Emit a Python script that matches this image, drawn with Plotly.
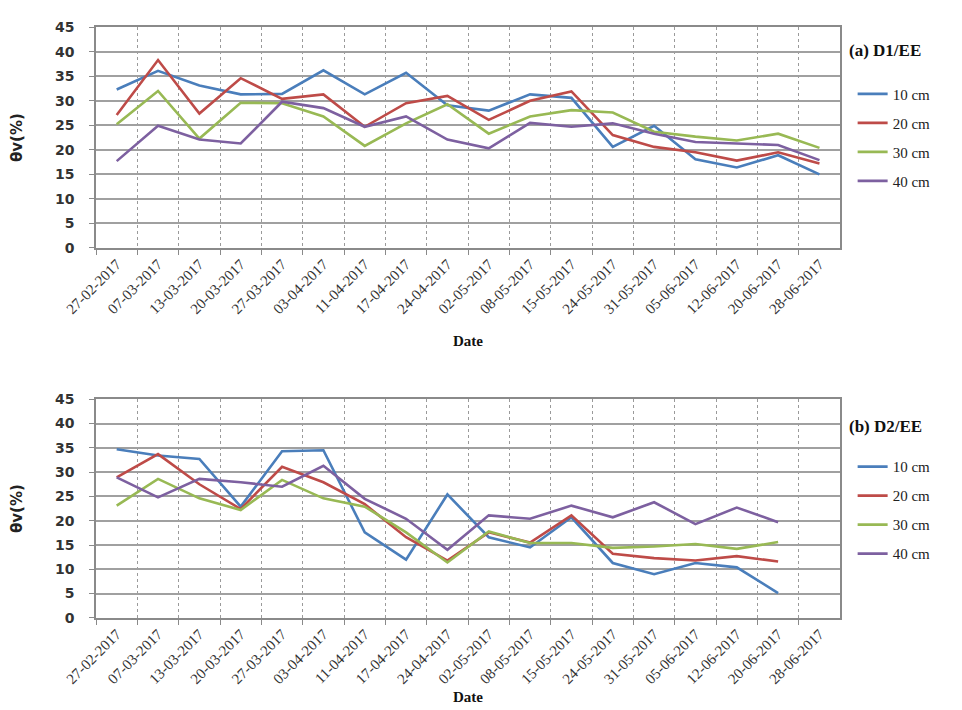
import plotly.graph_objects as go

dates = ["27-02-2017", "07-03-2017", "13-03-2017", "20-03-2017", "27-03-2017",
         "03-04-2017", "11-04-2017", "17-04-2017", "24-04-2017", "02-05-2017",
         "08-05-2017", "15-05-2017", "24-05-2017", "31-05-2017", "05-06-2017",
         "12-06-2017", "20-06-2017", "28-06-2017"]
depths = ["10 cm", "20 cm", "30 cm", "40 cm"]
y_ticks = [0, 5, 10, 15, 20, 25, 30, 35, 40, 45]

# (a) D1/EE
d1_10 = [32.3, 36.1, 33.1, 31.3, 31.4, 36.2, 31.3, 35.7, 29.1, 28.0, 31.3, 30.6, 20.6, 24.9, 18.1, 16.4, 18.9, 15.0]
d1_20 = [27.1, 38.3, 27.4, 34.6, 30.4, 31.3, 24.7, 29.5, 31.0, 26.1, 30.0, 31.9, 23.0, 20.6, 19.5, 17.8, 19.5, 17.2]
d1_30 = [25.2, 32.0, 22.3, 29.6, 29.5, 26.8, 20.8, 25.4, 29.3, 23.3, 26.8, 28.1, 27.6, 23.7, 22.7, 21.9, 23.3, 20.4]
d1_40 = [17.7, 24.9, 22.1, 21.3, 29.8, 28.5, 24.7, 26.8, 22.1, 20.3, 25.5, 24.7, 25.4, 23.3, 21.6, 21.3, 21.0, 17.9]

# (b) D2/EE
d2_10 = [34.7, 33.4, 32.7, 22.9, 34.3, 34.5, 17.6, 12.0, 25.4, 16.6, 14.5, 20.7, 11.3, 9.0, 11.3, 10.4, 5.1]
d2_20 = [28.9, 33.7, 27.5, 22.4, 31.1, 27.9, 23.4, 16.6, 11.8, 17.6, 15.5, 21.1, 13.2, 12.3, 11.8, 12.7, 11.6]
d2_30 = [23.1, 28.6, 24.6, 22.2, 28.4, 24.6, 22.9, 17.6, 11.4, 17.8, 15.4, 15.4, 14.4, 14.7, 15.2, 14.2, 15.6]
d2_40 = [28.9, 24.8, 28.6, 27.9, 27.0, 31.3, 24.5, 20.4, 14.0, 21.1, 20.4, 23.1, 20.7, 23.8, 19.3, 22.7, 19.7]

colors = ["#4A7EBB", "#BE4B48", "#98B954", "#7D60A0"]

fig = go.Figure()
panels = [
    ([d1_10, d1_20, d1_30, d1_40], "x", "y", "legend", "a"),
    ([d2_10, d2_20, d2_30, d2_40], "x2", "y2", "legend2", "b"),
]
for vals_list, xa, ya, leg, tag in panels:
    for name, vals, col in zip(depths, vals_list, colors):
        fig.add_trace(go.Scatter(
            x=dates[:len(vals)], y=vals, mode="lines", name=name,
            line=dict(color=col, width=2.6),
            xaxis=xa, yaxis=ya, legend=leg, legendgroup=tag + name,
        ))

xcommon = dict(
    type="category", categoryorder="array", categoryarray=dates,
    range=[-0.5, len(dates) - 0.5], tickson="boundaries",
    showgrid=True, gridcolor="#9a9a9a", griddash="dot", gridwidth=1,
    showline=True, linecolor="#8a8a8a", linewidth=1.5, mirror=True,
    ticks="outside", ticklen=5, tickcolor="#8a8a8a",
    tickangle=-45, tickfont=dict(family="Liberation Serif", size=15, color="#333"),
    domain=[0.0915, 0.865], zeroline=False, automargin=False,
)
ycommon = dict(
    range=[0, 45], tickvals=y_ticks, showgrid=True, gridcolor="#a0a0a0", gridwidth=1.6,
    showline=True, linecolor="#8a8a8a", linewidth=1.5, mirror=True,
    ticks="outside", ticklen=5, tickcolor="#8a8a8a", ticklabelstandoff=12,
    tickfont=dict(family="DejaVu Sans", size=14, color="#333", weight="bold"),
    title=dict(text="<b>θv(%)</b>", font=dict(family="DejaVu Sans", size=15, color="#222"), standoff=30),
    zeroline=False, automargin=False,
)

title_font = dict(family="Liberation Serif", size=17, color="#111")
date_font = dict(family="Liberation Serif", size=15, color="#111")

fig.update_layout(
    width=962, height=710, margin=dict(l=0, r=0, t=0, b=0),
    paper_bgcolor="white", plot_bgcolor="white",
    xaxis=dict(xcommon, anchor="y"),
    yaxis=dict(ycommon, anchor="x", domain=[0.662, 0.973]),
    xaxis2=dict(xcommon, anchor="y2"),
    yaxis2=dict(ycommon, anchor="x2", domain=[0.141, 0.449]),
    legend=dict(x=0.878, y=0.902, xanchor="left", yanchor="top",
                font=dict(family="Liberation Serif", size=15, color="#222"),
                traceorder="grouped", tracegroupgap=6.5, bgcolor="rgba(0,0,0,0)"),
    legend2=dict(x=0.878, y=0.377, xanchor="left", yanchor="top",
                 font=dict(family="Liberation Serif", size=15, color="#222"),
                 traceorder="grouped", tracegroupgap=6.5, bgcolor="rgba(0,0,0,0)"),
    annotations=[
        dict(text="<b>(a) D1/EE</b>", x=0.872, y=0.94, xref="paper", yref="paper",
             xanchor="left", yanchor="middle", showarrow=False, font=title_font),
        dict(text="<b>(b) D2/EE</b>", x=0.872, y=0.41, xref="paper", yref="paper",
             xanchor="left", yanchor="middle", showarrow=False, font=title_font),
        dict(text="<b>Date</b>", x=0.478, y=0.531, xref="paper", yref="paper",
             xanchor="center", yanchor="middle", showarrow=False, font=date_font),
        dict(text="<b>Date</b>", x=0.478, y=0.029, xref="paper", yref="paper",
             xanchor="center", yanchor="middle", showarrow=False, font=date_font),
    ],
)

fig.write_html("out.html")
